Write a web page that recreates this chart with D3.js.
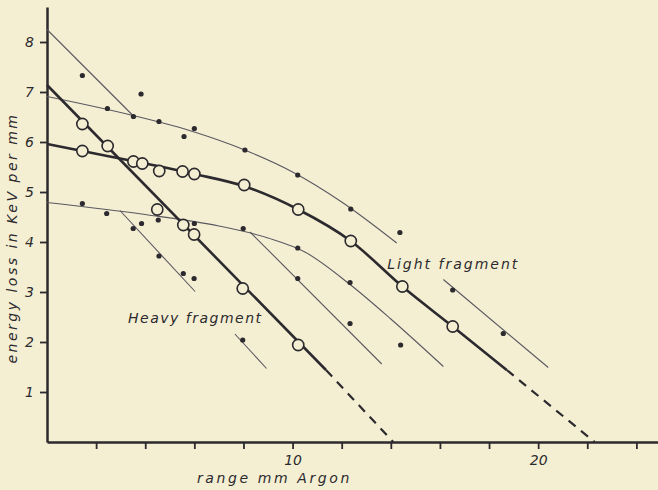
<!DOCTYPE html>
<html>
<head>
<meta charset="utf-8">
<script src="https://cdn.jsdelivr.net/npm/d3@7"></script>
<style>
  body { margin: 0; background: #f4efd3; }
  svg text { font-family: "DejaVu Sans", sans-serif; font-style: italic; fill: #2c2a2e; }
</style>
</head>
<body>
<div id="chart"></div>
<script>

// ticks
var xTicks = [2, 4, 6, 8, 10, 12, 14, 16, 18, 20, 22, 24];
var xLabelled = [10, 20];
var yTicks = [1, 2, 3, 4, 5, 6, 7, 8];

// thick fitted curves (range mm, keV per mm)
var heavyLine = [[0, 7.14], [11.36, 1.44]];
var heavyDash = [[11.36, 1.44], [14.1, 0]];
var lightLine = [[0, 5.96], [1.44, 5.82], [3.7, 5.6], [6, 5.36], [8, 5.12], [10.23, 4.65],
                 [12.37, 4.02], [14.47, 3.11], [16.52, 2.31], [18.72, 1.44]];
var lightDash = [[18.72, 1.44], [22.3, 0]];

// thin curves
var thinLines = [
  [[0, 8.25], [3.5, 6.53]],
  [[0, 6.91], [3.5, 6.53], [6, 6.2], [8, 5.85], [10, 5.4], [12, 4.8], [14.24, 3.98]],
  [[0, 4.79], [4, 4.55], [7, 4.32], [9, 4.08], [10.5, 3.8], [12.34, 3.15], [14, 2.46], [16.14, 1.51]],
  [[2.97, 4.63], [6.03, 3.01]],
  [[8.27, 4.2], [13.63, 1.56]],
  [[7.65, 2.16], [8.94, 1.47]],
  [[16.14, 3.25], [20.41, 1.49]]
];

// open circles
var heavyPoints = [[1.44, 6.36], [2.47, 5.92], [4.49, 4.65], [5.55, 4.34], [5.99, 4.15], [7.97, 3.07], [10.23, 1.94]];
var lightPoints = [[1.44, 5.82], [3.52, 5.61], [3.88, 5.57], [4.57, 5.42], [5.52, 5.41], [6.0, 5.36],
                   [8.03, 5.14], [10.23, 4.65], [12.37, 4.02], [14.47, 3.11], [16.52, 2.31]];

// single measurements
var dots = [[1.44, 7.33], [3.83, 6.96], [2.46, 6.67], [3.52, 6.51], [4.56, 6.41], [5.58, 6.11], [6.0, 6.27],
            [8.06, 5.84], [10.21, 5.34], [12.37, 4.66], [14.37, 4.19],
            [1.44, 4.77], [2.43, 4.57], [3.51, 4.27], [3.85, 4.37], [4.53, 4.44], [6.0, 4.37], [7.99, 4.27],
            [10.21, 3.88], [12.34, 3.19], [16.52, 3.04], [18.58, 2.17],
            [4.56, 3.72], [5.55, 3.37], [5.99, 3.27], [10.21, 3.27], [12.34, 2.37], [7.97, 2.04], [14.4, 1.94]];

var width = 658, height = 490;
var ink = "#2c2a2e", paper = "#f4efd3";

var svg = d3.select("#chart").append("svg")
    .attr("width", width)
    .attr("height", height);

svg.append("rect").attr("width", width).attr("height", height).style("fill", paper);

var x = d3.scaleLinear().domain([0, 24.88]).range([47, 658]);
var y = d3.scaleLinear().domain([0, 8.7]).range([442, 7]);

var line = d3.line().x(function(d) { return x(d[0]); }).y(function(d) { return y(d[1]); });
var curve = d3.line().x(function(d) { return x(d[0]); }).y(function(d) { return y(d[1]); })
    .curve(d3.curveMonotoneX);

// axes
var xAxis = svg.append("g")
    .attr("transform", "translate(0," + y(0) + ")")
    .call(d3.axisBottom(x).tickValues(xTicks).tickSize(7).tickSizeOuter(0)
        .tickFormat(function(d) { return xLabelled.indexOf(d) >= 0 ? d : ""; }));
xAxis.select(".domain").attr("stroke", ink).attr("stroke-width", 2.5);
xAxis.selectAll(".tick line").attr("stroke", ink).attr("stroke-width", 1.8);
xAxis.selectAll(".tick text").attr("dy", "0.95em").style("font-size", "14px").style("fill", ink);

var yAxis = svg.append("g")
    .attr("transform", "translate(" + x(0) + ",0)")
    .call(d3.axisLeft(y).tickValues(yTicks).tickSize(7).tickSizeOuter(0));
yAxis.select(".domain").attr("stroke", ink).attr("stroke-width", 2.5);
yAxis.selectAll(".tick line").attr("stroke", ink).attr("stroke-width", 1.8);
yAxis.selectAll(".tick text").attr("x", -13).style("font-size", "14px").style("fill", ink);

// thin lines
svg.append("g").selectAll("path")
    .data(thinLines)
    .enter().append("path")
    .attr("d", curve)
    .style("fill", "none")
    .style("stroke", "#5a5860")
    .style("stroke-width", 1.1);

// thick lines
[heavyLine, lightLine].forEach(function(l) {
    svg.append("path").attr("d", curve(l))
        .style("fill", "none").style("stroke", ink).style("stroke-width", 2.6);
});
[heavyDash, lightDash].forEach(function(l) {
    svg.append("path").attr("d", line(l))
        .style("fill", "none").style("stroke", ink).style("stroke-width", 2.2)
        .style("stroke-dasharray", "9,7");
});

// dots
svg.append("g").selectAll("circle")
    .data(dots)
    .enter().append("circle")
    .attr("cx", function(d) { return x(d[0]); })
    .attr("cy", function(d) { return y(d[1]); })
    .attr("r", 2.6)
    .style("fill", ink);

// open circles
svg.append("g").selectAll("circle")
    .data(heavyPoints.concat(lightPoints))
    .enter().append("circle")
    .attr("cx", function(d) { return x(d[0]); })
    .attr("cy", function(d) { return y(d[1]); })
    .attr("r", 5.6)
    .style("fill", paper)
    .style("stroke", ink)
    .style("stroke-width", 1.6);

// labels
svg.append("text")
    .attr("x", x(3.3)).attr("y", y(2.38))
    .style("font-size", "14px").style("letter-spacing", "1.5px")
    .text("Heavy fragment");

svg.append("text")
    .attr("x", x(13.85)).attr("y", y(3.46))
    .style("font-size", "14px").style("letter-spacing", "2px")
    .text("Light fragment");

svg.append("text")
    .attr("x", 197).attr("y", 483)
    .style("font-size", "14px").style("letter-spacing", "2.6px")
    .text("range mm Argon");

svg.append("text")
    .attr("transform", "translate(17,238) rotate(-90)")
    .style("text-anchor", "middle")
    .style("font-size", "14px").style("letter-spacing", "2.5px")
    .text("energy loss in KeV per mm");

</script>
</body>
</html>
